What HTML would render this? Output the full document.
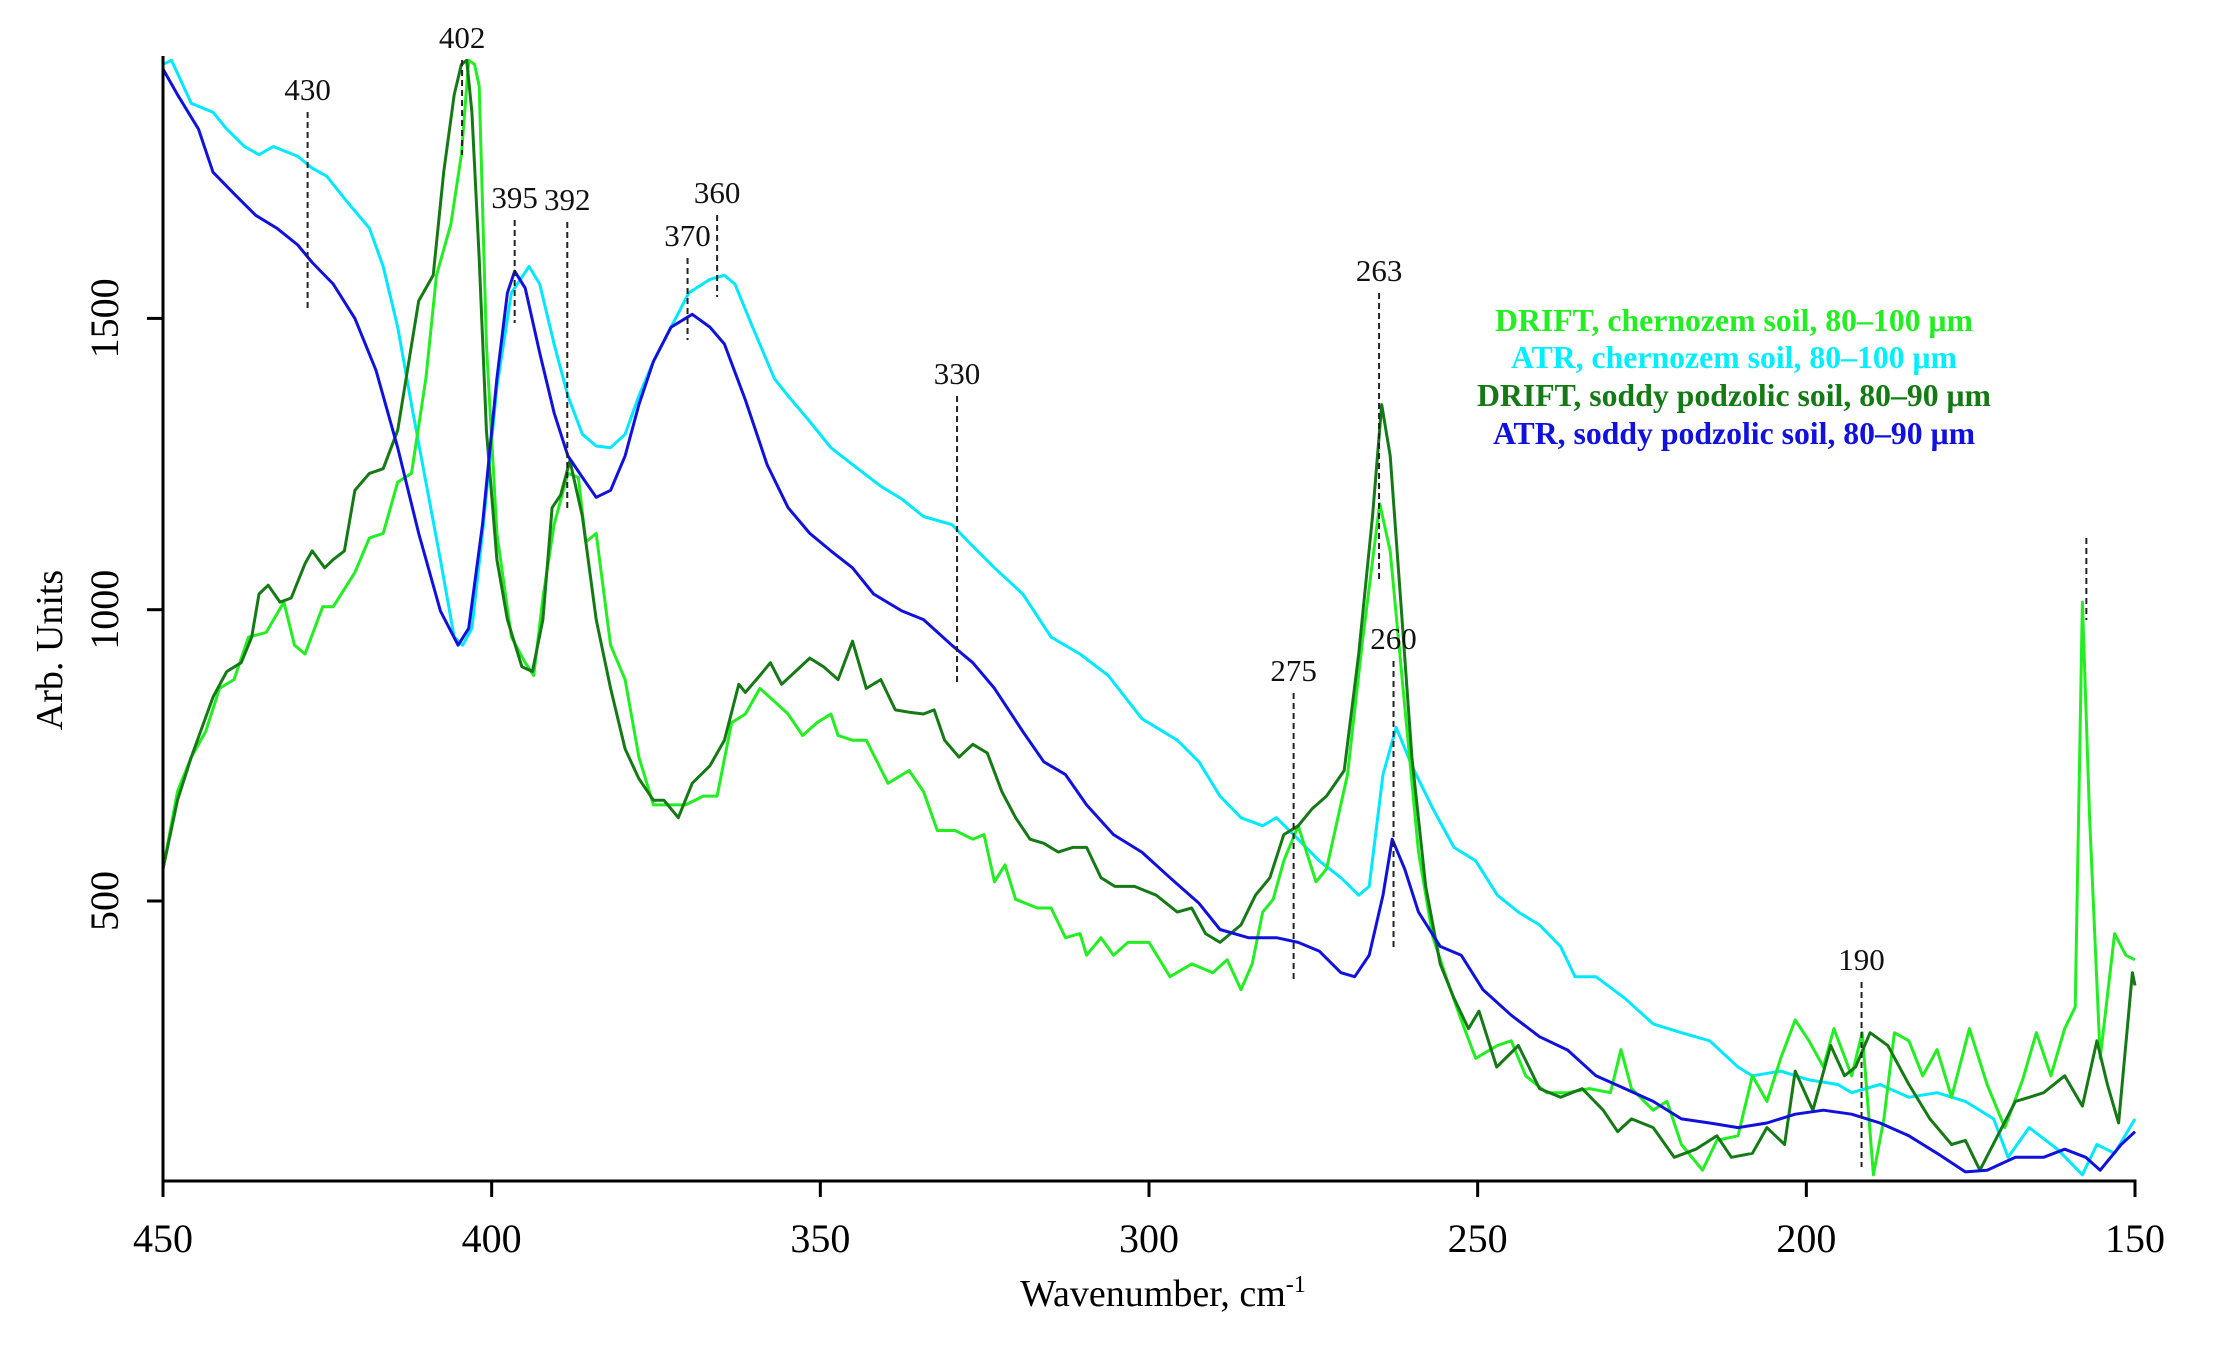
<!DOCTYPE html>
<html>
<head>
<meta charset="utf-8">
<style>
html,body{margin:0;padding:0;background:#fff;}
svg{display:block;}
text{font-family:"Liberation Serif",serif;}
</style>
</head>
<body>
<svg id="chart" width="2226" height="1350" viewBox="0 0 2226 1350" xmlns="http://www.w3.org/2000/svg">
  <rect width="2226" height="1350" fill="#fff"/>
  <g id="series"></g>
  <g id="annot"></g>
  <g id="axes"></g>
  <text x="1163" y="1306" font-size="38" text-anchor="middle">Wavenumber, cm<tspan font-size="24" dy="-14">-1</tspan></text>
  <text x="0" y="0" font-size="38" text-anchor="middle" transform="translate(62,650) rotate(-90)">Arb. Units</text>
  <g id="legend" font-weight="bold" font-size="32" text-anchor="middle">
    <text x="1734" y="331" fill="#22ee22" textLength="478" lengthAdjust="spacingAndGlyphs">DRIFT, chernozem soil, 80–100 μm</text>
    <text x="1734" y="368" fill="#00eeff" textLength="446" lengthAdjust="spacingAndGlyphs">ATR, chernozem soil, 80–100 μm</text>
    <text x="1734" y="406" fill="#157a15" textLength="514" lengthAdjust="spacingAndGlyphs">DRIFT, soddy podzolic soil, 80–90 μm</text>
    <text x="1734" y="444" fill="#1111dd" textLength="482" lengthAdjust="spacingAndGlyphs">ATR, soddy podzolic soil, 80–90 μm</text>
  </g>
</svg>
<script>
// ---- data ----
const xTicks = [450, 400, 350, 300, 250, 200, 150];
const yTicks = [500, 1000, 1500];

const cyanWn = [450,448.7,445.7,442.4,440.3,437.6,435.4,433.2,429.5,427.3,425.1,421.9,418.6,416.5,414.3,412.2,410,407.8,405.7,404.4,403,401.4,399.2,397,394.3,392.7,390.5,388.4,386.2,384.1,381.9,379.7,377.6,375.4,372.7,370,366.8,364.6,363,360.3,357,354.9,351.6,348.4,345.1,340.8,337.6,334.3,330,326.8,323.5,319.2,314.9,310.5,306.2,301.1,295.7,292.4,289.2,286,282.7,280.6,277.3,274.1,270.8,268.1,266.5,264.4,262.4,260,256.8,253.6,250.3,247,243.8,240.6,237.4,235.2,232,227.6,223.3,219,214.7,210.4,208.2,203.9,199.6,195.2,193.1,188.8,184.4,180.1,175.8,171.5,169.3,166.1,161.8,158,155.8,153.1,150];
const cyanVals = [1936,1943,1869,1854,1825,1795,1781,1795,1778,1758,1744,1699,1655,1589,1485,1352,1219,1086,953,939,968,1131,1382,1544,1589,1559,1456,1367,1301,1281,1278,1301,1367,1426,1485,1544,1567,1574,1559,1485,1397,1367,1323,1278,1249,1212,1190,1160,1146,1109,1072,1027,953,924,887,813,776,739,680,643,629,643,606,569,540,510,525,717,798,732,658,592,569,510,481,459,422,370,370,333,289,274,260,215,200,208,193,185,171,185,163,171,156,126,60,111,74,30,82,67,126];

const blueWn = [450,447.8,444.6,442.4,439.2,435.9,432.7,429.5,427.3,424.1,420.8,417.6,414.3,411.1,407.8,405.1,403.5,401.4,399.2,397.6,396.5,394.9,392.7,390.5,388.4,386.2,384.1,381.9,379.7,377.6,375.4,372.7,369.5,366.8,364.6,361.4,358.1,354.9,351.6,348.4,345.1,341.9,337.6,334.3,330,326.8,323.5,319.2,316,312.7,309.5,305.4,301.1,296.8,292.4,289.2,284.9,280.6,277.3,274.1,270.8,268.7,266.5,264.4,263,261.1,259,255.7,252.5,249.2,244.9,240.6,236.3,232,227.6,223.3,219,214.7,210.4,206,201.7,197.4,193.1,188.8,184.4,180.1,175.8,172.5,168.2,163.9,160.7,157.5,155.3,152.1,150];
const blueVals = [1928,1884,1825,1751,1714,1677,1655,1626,1596,1559,1500,1411,1278,1131,998,939,968,1146,1397,1544,1581,1552,1441,1338,1264,1227,1193,1205,1264,1352,1426,1485,1507,1485,1456,1360,1249,1175,1131,1101,1072,1027,998,983,939,909,865,791,739,717,665,614,584,540,496,451,437,437,429,414,377,370,407,510,606,555,481,422,407,348,304,267,244,200,178,156,126,119,111,119,134,141,134,119,97,67,35,38,60,60,74,60,38,82,104];

const dgreenWn = [450,447.8,445.7,442.4,440.3,438.1,436.5,435.4,434,432.2,430.5,428.4,427.3,425.4,424.1,422.4,420.8,418.6,416.5,414.3,411.1,408.9,407.3,405.7,404.6,403.8,403,401.9,400.8,399.2,397.6,395.4,393.8,392.2,390.8,389.5,388.1,386.2,384.1,381.9,379.7,377.6,375.4,373.8,371.6,369.5,366.8,364.6,362.4,361.4,359.2,357.6,355.9,353.8,351.6,349.5,347.3,345.1,343,340.8,338.6,336.5,334.3,332.7,331.1,328.9,326.8,324.6,322.4,320.3,318.1,316,313.8,311.6,309.5,307.3,305.2,302.2,298.9,295.7,293.5,291.4,289.2,286,283.8,281.6,279.5,277.3,275.2,273,270.3,268.1,266,264.6,263.3,261.7,260,257.9,255.7,253.6,251.4,249.8,247.1,243.8,240.6,237.4,234.1,230.9,228.7,226.6,223.3,220.1,216.8,213.6,211.4,208.2,206,203.3,201.7,199,196.3,194.2,192.5,190.3,187.6,184.4,181.2,177.9,175.8,173.6,170.9,168.2,166.1,163.9,160.7,158,155.8,154.2,152.5,150.4,150];
const dgreenVals = [555,673,747,850,894,909,953,1027,1042,1013,1020,1079,1101,1072,1086,1101,1205,1234,1242,1308,1530,1574,1751,1884,1936,1943,1854,1603,1308,1086,983,902,894,983,1175,1197,1256,1160,983,865,761,710,673,673,643,702,732,776,872,858,887,909,872,894,917,902,880,946,865,880,828,824,821,828,776,747,769,754,688,643,606,599,584,592,592,540,525,525,510,481,488,444,429,459,510,540,614,629,658,680,724,924,1160,1352,1264,1013,747,525,392,333,281,311,215,252,178,163,178,141,104,126,111,60,74,97,60,67,111,82,208,141,252,200,215,274,252,185,126,82,89,38,97,156,163,171,200,148,260,185,119,377,355];

const lgreenWn = [450,447.8,445.7,443.5,441.4,439.2,437,434.3,431.6,430,428.4,425.7,424.1,420.8,418.6,416.5,414.3,412.2,410,408.4,406.2,404.6,403.5,402.6,401.9,400.8,399.2,397,394.9,393.6,392.2,390.5,388.4,386.8,385.7,384.1,381.9,379.7,377.6,375.4,372.7,370.5,367.8,365.7,363.5,361.4,359.2,357,354.9,352.7,350.5,348.4,347.3,345.1,343,339.7,336.5,334.3,332.2,329.5,326.8,325.1,323.5,321.9,320.3,317,314.9,312.7,310.5,309.5,307.3,305.4,303.2,300,296.8,293.5,290.3,288.1,286,284.3,282.7,281.1,279.5,277.3,274.6,273,269.8,267.6,264.9,263.3,261.1,259,256.8,254.6,252.5,250.3,247,244.9,242.7,239.5,236.3,233,229.8,228.2,226.6,223.3,221.2,219,215.8,213.6,210.4,208.2,206,203.9,201.7,199.6,197.4,195.8,193.1,191.5,189.8,188.2,186.6,184.4,182.3,180.1,177.9,175.2,172.5,169.8,167.1,165,162.8,160.7,159.1,158,156.9,155.3,153.1,151.4,150];
const lgreenVals = [555,688,747,791,865,880,953,961,1013,939,924,1005,1005,1064,1123,1131,1219,1234,1397,1574,1662,1781,1943,1936,1899,1456,1131,953,909,887,1020,1146,1234,1227,1116,1131,939,880,747,665,665,665,680,680,806,821,865,843,821,784,806,821,784,776,776,702,724,688,621,621,606,614,533,562,503,488,488,437,444,407,437,407,429,429,370,392,377,399,348,392,481,503,569,629,533,555,717,939,1182,1101,835,584,437,363,296,230,252,260,200,171,171,178,171,245,178,141,156,82,38,89,97,200,156,230,296,260,215,281,200,274,30,126,274,260,200,245,163,281,185,111,193,274,200,281,318,1013,643,230,444,407,399];

const peakLabels = ["430","402","395","392","370","360","330","275","263","260","190",""];
const peakWn = [428,404.5,396.5,388.5,370.2,365.7,329.2,278,265,262.8,191.6,157.4];

// ---- scales ----
const X0 = 163, X1 = 2135, Y0 = 1181, YTOP = 56;
function sx(v){ return X0 + (450 - v) * (X1 - X0) / 300; }
function sy(v){ return 901 - (v - 500) * 0.5826; }

const NS = "http://www.w3.org/2000/svg";
function mk(tag, attrs, parent){
  const el = document.createElementNS(NS, tag);
  for (const k in attrs) el.setAttribute(k, attrs[k]);
  parent.appendChild(el);
  return el;
}

// ---- series ----
const seriesG = document.getElementById('series');
function drawSeries(wn, vals, color, name){
  let d = '';
  for (let i = 0; i < wn.length; i++){
    d += (i ? 'L' : 'M') + sx(wn[i]).toFixed(1) + ' ' + sy(vals[i]).toFixed(1);
  }
  const p = mk('path', {d: d, fill: 'none', stroke: color, 'stroke-width': 3, 'stroke-linejoin': 'round'}, seriesG);
  
  
}
drawSeries(cyanWn, cyanVals, '#00e8ff', 'atr-chernozem-line');
drawSeries(lgreenWn, lgreenVals, '#22ee22', 'drift-chernozem-line');
drawSeries(dgreenWn, dgreenVals, '#157a15', 'drift-soddy-line');
drawSeries(blueWn, blueVals, '#1111dd', 'atr-soddy-line');

// ---- annotations ----
const annotG = document.getElementById('annot');
const lineTops = [112,60,220,222,258,215,396,693,293,661,982,538];
const lineBots = [310,155,323,508,340,297,685,982,581,947,1167,620];
for (let i = 0; i < peakWn.length; i++){
  const x = sx(peakWn[i]);
  const l = mk('line', {x1: x, x2: x, y1: lineTops[i], y2: lineBots[i], stroke: '#222', 'stroke-width': 2, 'stroke-dasharray': '6,4'}, annotG);
  
  
  if (peakLabels[i]){
    const t = mk('text', {x: x, y: lineTops[i] - 12, 'font-size': 31, 'text-anchor': 'middle', fill: '#111'}, annotG);
    t.textContent = peakLabels[i];
    
    
  }
}

// ---- axes ----
const axesG = document.getElementById('axes');
const yAxis = mk('line', {x1: X0, x2: X0, y1: YTOP, y2: Y0 + 1.5, stroke: '#000', 'stroke-width': 3}, axesG);


const xAxis = mk('line', {x1: X0 - 1.5, x2: X1 + 1.5, y1: Y0, y2: Y0, stroke: '#000', 'stroke-width': 3}, axesG);


xTicks.forEach(v => {
  const x = sx(v);
  const tk = mk('line', {x1: x, x2: x, y1: Y0, y2: Y0 + 16, stroke: '#000', 'stroke-width': 3}, axesG);
  
  
  const t = mk('text', {x: x, y: 1252, 'font-size': 40, 'text-anchor': 'middle'}, axesG);
  t.textContent = v;
  
  
});
yTicks.forEach(v => {
  const y = sy(v);
  const tk = mk('line', {x1: X0 - 16, x2: X0, y1: y, y2: y, stroke: '#000', 'stroke-width': 3}, axesG);
  
  
  const t = mk('text', {x: 0, y: 0, 'font-size': 40, 'text-anchor': 'middle', transform: 'translate(118,' + y + ') rotate(-90)'}, axesG);
  t.textContent = v;
  
  
});
</script>
</body>
</html>
